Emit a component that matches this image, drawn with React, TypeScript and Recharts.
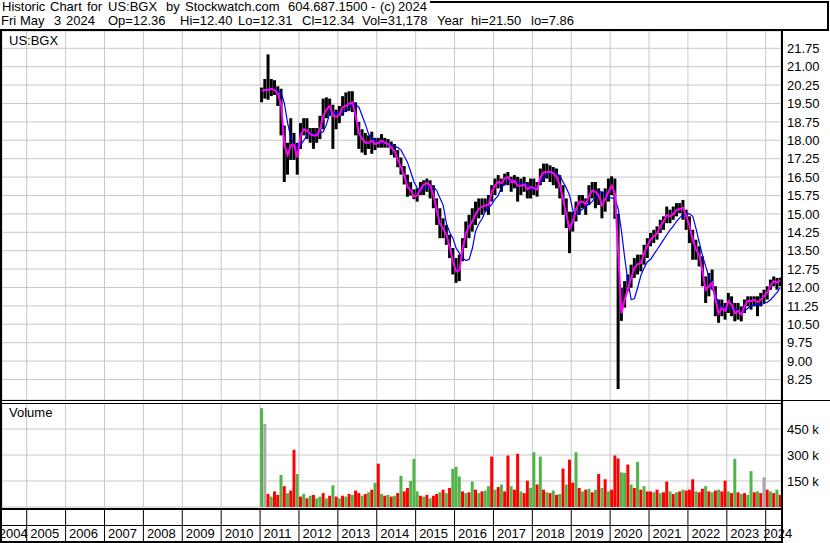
import { ComposedChart, Bar, Line, XAxis, YAxis, CartesianGrid, Cell } from 'recharts';

const FONT = '"Liberation Sans", Arial, sans-serif';
const FIRST_YEAR = 2011;

// monthly high / low, Jan 2011 .. May 2024
const hi = [
  20.15, 20.5, 21.5, 20.5, 20.45, 20.2, 20.1, 18.6, 17.9, 18.9, 18.3, 17.9,
  18.7, 18.9, 18.9, 18.5, 18.5, 18.5, 19.0, 19.7, 19.75, 19.7, 19.45, 19.25,
  19.4, 19.8, 19.95, 20.0, 20.0, 19.55, 18.75, 18.45, 18.3, 18.2, 18.35, 18.1,
  18.1, 18.25, 18.1, 18.05, 17.95, 17.85, 17.6, 17.3, 16.95, 16.6, 16.3, 16.0,
  16.04, 16.3, 16.37, 16.44, 16.37, 16.17, 15.63, 15.23, 14.82, 14.55, 14.15, 13.61,
  13.2, 13.34, 14.01, 14.69, 14.96, 15.23, 15.5, 15.63, 15.63, 15.63, 15.77, 16.17,
  16.44, 16.58, 16.44, 16.64, 16.71, 16.51, 16.58, 16.51, 16.44, 16.51, 16.3, 16.44,
  16.44, 16.3, 16.85, 17.05, 17.05, 16.98, 16.91, 16.85, 16.58, 16.17, 15.63, 15.09,
  15.09, 15.5, 15.77, 15.77, 15.63, 16.17, 16.3, 16.3, 16.04, 15.9, 16.04, 16.44,
  16.53, 16.44, 15.0, 11.99, 12.26, 12.53, 12.93, 13.2, 13.34, 13.34, 13.74, 14.01,
  14.22, 14.35, 14.49, 14.76, 14.9, 15.3, 15.17, 15.3, 15.44, 15.44, 15.57, 15.17,
  14.9, 14.35, 13.95, 13.68, 13.27, 12.45, 12.59, 12.73, 12.05, 11.51, 11.51, 11.37,
  11.78, 11.64, 11.37, 11.37, 11.23, 11.51, 11.64, 11.64, 11.64, 11.64, 11.78, 11.91,
  12.05, 12.32, 12.45, 12.39, 12.4,
];
const lo = [
  19.55, 19.7, 19.65, 19.8, 19.85, 19.4, 18.2, 16.3, 16.6, 17.2, 17.2, 16.6,
  17.65, 18.2, 18.05, 17.9, 17.65, 17.9, 18.05, 18.45, 18.9, 19.0, 17.65, 18.45,
  18.7, 19.0, 19.15, 19.2, 19.15, 18.2, 17.65, 17.5, 17.4, 17.65, 17.45, 17.6,
  17.7, 17.7, 17.7, 17.7, 17.4, 17.3, 16.9, 16.6, 16.2, 15.7, 15.75, 15.6,
  15.5, 15.77, 15.77, 15.9, 15.63, 15.23, 14.55, 14.01, 14.01, 13.74, 13.2, 12.53,
  12.19, 12.26, 13.07, 13.61, 14.01, 14.28, 14.55, 14.82, 14.96, 15.09, 14.96, 15.5,
  15.77, 16.04, 15.9, 16.17, 16.17, 15.9, 16.04, 15.5, 15.77, 15.9, 15.63, 15.63,
  15.77, 15.7, 16.17, 16.3, 16.44, 16.3, 16.17, 16.04, 15.63, 14.96, 14.42, 13.4,
  14.28, 14.69, 14.96, 15.23, 14.96, 15.36, 15.63, 15.23, 15.36, 14.82, 15.09, 15.5,
  15.77, 14.8, 7.86, 10.64, 11.18, 11.85, 11.99, 12.39, 12.53, 12.66, 12.93, 13.2,
  13.68, 13.81, 13.95, 14.22, 14.35, 14.62, 14.62, 14.76, 14.9, 15.03, 14.76, 14.35,
  13.81, 13.13, 13.13, 12.86, 12.05, 11.37, 11.64, 11.91, 10.83, 10.56, 10.83, 10.69,
  10.96, 10.83, 10.62, 10.69, 10.62, 10.96, 11.23, 11.1, 11.23, 10.83, 11.23, 11.37,
  11.51, 11.91, 12.05, 11.91, 12.05,
];
// short moving average (magenta)
const mag = [
  20.02, 20.05, 20.05, 20.1, 20.05, 19.9, 19.45, 17.8, 17.4, 17.8, 17.8, 17.3,
  18.2, 18.45, 18.4, 18.25, 18.2, 18.2, 18.45, 19.0, 19.25, 19.4, 19.0, 18.95,
  19.05, 19.35, 19.4, 19.5, 19.55, 19.0, 18.3, 18.05, 17.9, 17.9, 17.98, 17.85,
  17.9, 17.98, 17.9, 17.85, 17.7, 17.55, 17.2, 16.9, 16.55, 16.1, 15.95, 15.7,
  15.75, 16.0, 16.2, 16.25, 16.15, 15.75, 15.15, 14.6, 14.4, 14.15, 13.65, 13.05,
  12.65, 12.7, 13.6, 14.2, 14.5, 14.7, 15.0, 15.2, 15.3, 15.35, 15.35, 15.9,
  16.15, 16.3, 16.25, 16.45, 16.5, 16.3, 16.35, 16.15, 16.15, 16.2, 16.0, 16.1,
  16.05, 16.0, 16.5, 16.7, 16.7, 16.72, 16.65, 16.5, 16.15, 15.6, 14.95, 14.4,
  14.7, 15.2, 15.5, 15.5, 15.4, 15.75, 15.95, 15.9, 15.75, 15.35, 15.6, 15.9,
  16.15, 15.8, 13.4, 10.95, 11.5, 11.95, 12.4, 12.8, 12.95, 13.0, 13.4, 13.7,
  13.95, 14.1, 14.2, 14.5, 14.7, 14.95, 14.9, 15.0, 15.15, 15.2, 15.25, 14.9,
  14.5, 13.95, 13.55, 13.3, 12.65, 11.9, 12.05, 12.2, 11.5, 10.95, 11.15, 11.05,
  11.45, 11.3, 10.95, 11.05, 10.9, 11.25, 11.45, 11.45, 11.5, 11.4, 11.5, 11.65,
  11.8, 12.1, 12.25, 12.2, 12.3,
];
// long moving average (blue)
const ma = [
  20.0, 20.05, 20.1, 20.1, 20.05, 20.0, 19.95, 19.5, 18.7, 18.1, 17.85, 17.7,
  17.8, 18.0, 18.2, 18.3, 18.25, 18.25, 18.3, 18.35, 18.65, 19.1, 19.15, 19.1,
  19.1, 19.15, 19.2, 19.3, 19.5, 19.45, 19.35, 19.0, 18.65, 18.25, 18.1, 18.0,
  17.9, 17.9, 17.85, 17.85, 17.8, 17.75, 17.7, 17.6, 17.35, 17.1, 16.7, 16.3,
  16.05, 15.95, 16.0, 16.1, 16.15, 16.1, 15.95, 15.65, 15.35, 14.6, 14.25, 14.0,
  13.6, 13.4, 13.2, 13.1, 13.15, 13.6, 14.3, 14.6, 14.8, 15.1, 15.25, 15.4,
  15.6, 15.75, 16.1, 16.2, 16.3, 16.35, 16.35, 16.3, 16.25, 16.25, 16.2, 16.0,
  16.0, 16.1, 16.25, 16.45, 16.6, 16.7, 16.7, 16.65, 16.55, 16.3, 16.05, 15.75,
  15.15, 14.95, 15.1, 15.2, 15.3, 15.4, 15.5, 15.7, 15.9, 15.9, 15.8, 15.65,
  15.65, 15.6, 15.2, 14.3, 13.2, 12.25, 11.5, 11.55, 12.0, 12.5, 12.8, 13.05,
  13.15, 13.35, 13.55, 13.75, 13.95, 14.15, 14.35, 14.5, 14.7, 14.85, 14.95, 15.0,
  15.0, 14.9, 14.4, 13.85, 13.3, 12.85, 12.45, 11.95, 11.65, 11.4, 11.2, 11.15,
  11.15, 11.15, 11.15, 11.05, 10.95, 11.05, 11.15, 11.25, 11.28, 11.3, 11.3, 11.35,
  11.4, 11.5, 11.65, 11.8, 12.0,
];
// monthly volume, thousands
const volK = [
  570, 480, 75, 60, 90, 70, 185, 120, 80, 95, 330, 190,
  60, 75, 50, 65, 70, 50, 60, 80, 50, 65, 125, 60,
  50, 65, 60, 75, 70, 95, 80, 65, 75, 85, 100, 140,
  250, 75, 65, 70, 60, 65, 80, 180, 90, 110, 150, 278,
  90, 65, 60, 70, 50, 65, 75, 85, 100, 80, 110, 220,
  232, 176, 90, 80, 85, 147, 100, 80, 90, 95, 120, 291,
  100, 115, 130, 90, 297, 120, 100, 307, 90, 80, 152, 110,
  316, 130, 291, 100, 85, 80, 95, 70, 75, 222, 130, 273,
  140, 316, 110, 90, 100, 105, 85, 100, 190, 110, 160, 90,
  100, 297, 280, 200, 197, 245, 130, 110, 260, 100, 120, 90,
  90, 85, 100, 80, 85, 147, 90, 75, 85, 90, 100, 95,
  100, 160, 90, 85, 105, 120, 90, 85, 95, 100, 90, 152,
  90, 80, 278, 85, 75, 80, 70, 207, 85, 90, 80, 172,
  100, 90, 80, 100, 70,
];
// bar colour per month: g = up, r = down, n = unchanged
const volDir = (
  'gnrgrrgrgrrg' + 'rgrgrggrgrgr' + 'grgrgrrgrgrg' + 'rgrgrgrgrrgg' +
  'grgrgrrgrgrg' + 'ggrgrgrgrggr' + 'grgrrgrrgrrg' + 'grgrgrgrgrgr' +
  'rgrgrgrgrgrg' + 'rrrggrgrgrgr' + 'rgrgrrgrgrgr' + 'rrgrrgrgrgrr' +
  'grgrgrggrgrn' + 'rgrgr'
).split('');

const yearTicks = [2005, 2006, 2007, 2008, 2009, 2010, 2011, 2012, 2013, 2014, 2015,
  2016, 2017, 2018, 2019, 2020, 2021, 2022, 2023, 2024];
const priceTicks = [8.25, 9, 9.75, 10.5, 11.25, 12, 12.75, 13.5, 14.25, 15, 15.75,
  16.5, 17.25, 18, 18.75, 19.5, 20.25, 21, 21.75];
const volTicks = [150000, 300000, 450000];

// header words and their left edges
const titleParts: [string, number][] = [
  ['Historic', 2], ['Chart', 50], ['for', 87], ['US:BGX', 108], ['by', 166],
  ['Stockwatch.com', 185], ['604.687.1500', 288], ['-', 371], ['(c)', 380], ['2024', 398],
];
const quoteParts: [string, number][] = [
  ['Fri', 1], ['May', 20], ['3', 54], ['2024', 66], ['Op=12.36', 108], ['Hi=12.40', 180],
  ['Lo=12.31', 238], ['Cl=12.34', 302], ['Vol=31,178', 362], ['Year', 437],
  ['hi=21.50', 471], ['lo=7.86', 531],
];

const X_DOMAIN: [number, number] = [2004.365, 2024.393];
const DIR_COLORS: Record<string, string> = { g: '#4fb548', r: '#ff0000', n: '#a8a8a8' };

const priceRows = hi.map((h, i) => ({
  t: FIRST_YEAR + (i + 0.5) / 12,
  range: [lo[i], h],
  mag: mag[i],
  ma: ma[i],
}));
const volRows = volK.map((v, i) => ({
  t: FIRST_YEAR + (i + 0.5) / 12,
  vol: v * 1000,
  dir: volDir[i],
}));

const tickStyle = { fontSize: 13, fill: '#000', fontFamily: FONT };

// year strip below the volume panel (chart svg starts at page y 403)
const YearTick = (props: any) => {
  const { x, payload } = props;
  const yr = payload.value;
  const tx = yr === 2024 ? x - 2.5 : x + 3.5;
  return (
    <g>
      <line x1={x} x2={x} y1={106} y2={139} stroke="#000" strokeWidth={1} />
      <text x={tx} y={135} fontSize={13} fill="#000" fontFamily={FONT}>{yr}</text>
      {yr === 2005 && (
        <text x={x - 28} y={135} fontSize={13} fill="#000" fontFamily={FONT}>2004</text>
      )}
    </g>
  );
};

const hLine = (left: number, top: number, width: number, h = 1) => (
  <div style={{ position: 'absolute', left, top, width, height: h, background: '#000' }} />
);
const vLine = (left: number, top: number, height: number, w = 2) => (
  <div style={{ position: 'absolute', left, top, width: w, height, background: '#000' }} />
);

const textRow = (list: [string, number][], top: number) =>
  list.map(([w, x], i) => (
    <span key={`${top}-${i}`} style={{ position: 'absolute', left: x, top, fontSize: 13, lineHeight: '12px', whiteSpace: 'pre' }}>{w}</span>
  ));

export default function App() {
  return (
    <div style={{ position: 'absolute', left: 0, top: 0, width: 830, height: 543, background: '#fff', overflow: 'hidden', fontFamily: FONT, color: '#000' }}>
      {textRow(titleParts, 1)}
      {textRow(quoteParts, 15)}

      <div style={{ position: 'absolute', left: 0, top: 31 }}>
        <ComposedChart width={830} height={369} data={priceRows} margin={{ top: 0, right: 0, bottom: 0, left: 2 }}>
          <CartesianGrid stroke="#c8c8c8" strokeWidth={1} />
          <XAxis type="number" dataKey="t" domain={X_DOMAIN} ticks={yearTicks} allowDataOverflow hide />
          <YAxis orientation="right" width={49} domain={[7.414, 22.455]} ticks={priceTicks} allowDataOverflow
            interval={0} axisLine={false} tickLine={false} tickSize={0} tickMargin={6}
            tick={tickStyle} tickFormatter={(v: number) => v.toFixed(2)} />
          <Bar dataKey="range" fill="#000" barSize={3} isAnimationActive={false} />
          <Line dataKey="ma" stroke="#0000ff" strokeWidth={1.2} dot={false} isAnimationActive={false} />
          <Line dataKey="mag" stroke="#ff00ff" strokeWidth={2} dot={false} isAnimationActive={false} />
        </ComposedChart>
      </div>

      <div style={{ position: 'absolute', left: 0, top: 403 }}>
        <ComposedChart width={830} height={140} data={volRows} margin={{ top: 0, right: 0, bottom: 0, left: 2 }}>
          <CartesianGrid stroke="#c8c8c8" strokeWidth={1} />
          <XAxis type="number" dataKey="t" domain={X_DOMAIN} ticks={yearTicks} allowDataOverflow
            height={36} axisLine={false} tickLine={false} tick={<YearTick />} interval={0} />
          <YAxis orientation="right" width={49} domain={[0, 600000]} ticks={volTicks} allowDataOverflow
            interval={0} axisLine={false} tickLine={false} tickSize={0} tickMargin={6}
            tick={tickStyle} tickFormatter={(v: number) => `${v / 1000} k`} />
          <Bar dataKey="vol" barSize={3} isAnimationActive={false}>
            {volRows.map((r, i) => (
              <Cell key={`v-${i}`} fill={DIR_COLORS[r.dir]} />
            ))}
          </Bar>
        </ComposedChart>
      </div>

      <div style={{ position: 'absolute', left: 9, top: 34, fontSize: 13, lineHeight: '13px' }}>US:BGX</div>
      <div style={{ position: 'absolute', left: 9, top: 406, fontSize: 13, lineHeight: '13px' }}>Volume</div>

      {/* frame lines */}
      {hLine(430, 1, 399, 2)}
      {vLine(827, 1, 30)}
      {hLine(0, 29, 829, 2)}
      {vLine(0, 29, 514)}
      {vLine(781, 29, 514)}
      {hLine(0, 400, 830)}
      {hLine(0, 403, 782)}
      {hLine(0, 508, 782, 2)}
      {hLine(0, 525, 782)}
      {hLine(0, 541, 782, 2)}
    </div>
  );
}
